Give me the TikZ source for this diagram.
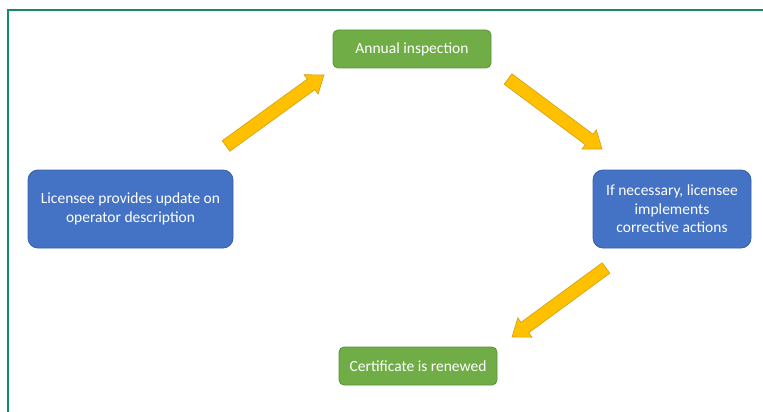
\documentclass[tikz,border=0pt]{standalone}
\usepackage{fontspec}
\setmainfont{Carlito}
\usetikzlibrary{calc}
\definecolor{frameg}{RGB}{22,138,96}
\definecolor{boxg}{RGB}{112,173,71}
\definecolor{boxgd}{RGB}{90,145,55}
\definecolor{boxb}{RGB}{68,114,196}
\definecolor{boxbd}{RGB}{55,95,165}
\definecolor{arry}{RGB}{255,192,0}
\definecolor{arryd}{RGB}{210,160,20}
\tikzset{
  gbox/.style={draw=boxgd, line width=0.8pt, fill=boxg, rounded corners=5pt, text=white, align=center, font=\fontsize{15.5}{18.5}\selectfont, inner sep=0pt},
  bbox/.style={draw=boxbd, line width=0.8pt, fill=boxb, rounded corners=10pt, text=white, align=center, font=\fontsize{15.5}{18.5}\selectfont, inner sep=0pt},
  yarrow/.style={draw=arryd, line width=0.6pt, fill=arry, line join=miter},
}
\newcommand\blockarrow[2]{%
  \coordinate (hb) at ($(#2)!16pt!(#1)$);
  \filldraw[yarrow] ($(#1)!6.5pt!90:(#2)$) -- ($(hb)!6.5pt!-90:(#1)$) -- ($(hb)!12pt!-90:(#1)$) -- (#2)
    -- ($(hb)!12pt!90:(#1)$) -- ($(hb)!6.5pt!90:(#1)$) -- ($(#1)!6.5pt!-90:(#2)$) -- cycle;}
\begin{document}
\begin{tikzpicture}[x=1pt,y=-1pt]
\useasboundingbox[fill=white] (0,0) rectangle (763,412);
\draw[frameg, line width=2pt] (8,412) -- (8,10) -- (763,10);
\node[gbox, minimum width=158pt, minimum height=38pt] (annual) at (412,49) {Annual inspection};
\node[bbox, minimum width=205pt, minimum height=78pt] (lic) at (130.5,209) {Licensee provides update on\\operator description};
\node[bbox, minimum width=158pt, minimum height=78pt] (nec) at (672,209) {If necessary, licensee\\implements\\corrective actions};
\node[gbox, minimum width=158pt, minimum height=38pt] (cert) at (418,366) {Certificate is renewed};
\coordinate (a1s) at (226,146);
\coordinate (a1e) at (324,75);
\coordinate (a2s) at (508,79);
\coordinate (a2e) at (602,149);
\coordinate (a3s) at (606,268);
\coordinate (a3e) at (512,337);
\blockarrow{a1s}{a1e}
\blockarrow{a2s}{a2e}
\blockarrow{a3s}{a3e}
\end{tikzpicture}
\end{document}
